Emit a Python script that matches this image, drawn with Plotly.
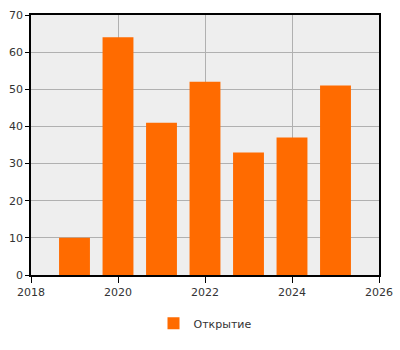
import plotly.graph_objects as go

years = [2019, 2020, 2021, 2022, 2023, 2024, 2025]
values = [10, 64, 41, 52, 33, 37, 51]
series_name = "Открытие"

fig = go.Figure()
fig.add_trace(go.Bar(x=years, y=values, name=series_name, marker_color="#ff6b00",
                     marker_line_width=0, width=0.71, showlegend=True))

axis_common = dict(showline=True, linecolor="black", linewidth=1.5, mirror=True,
                   ticks="outside", tickcolor="black", gridcolor="#b0b0b0", gridwidth=1,
                   zeroline=False, automargin=False,
                   tickfont=dict(family="DejaVu Sans", size=11, color="#333333"))

fig.update_layout(
    width=400, height=350,
    margin=dict(l=31, r=21, t=15, b=75),
    plot_bgcolor="#eeeeee", paper_bgcolor="white",
    xaxis=dict(range=[2018, 2026], dtick=2, tick0=2018, ticklen=6, **axis_common),
    yaxis=dict(range=[0, 70], dtick=10, ticklen=4, **axis_common),
    showlegend=True,
    legend=dict(orientation="h", x=0.5, xanchor="center", y=-0.13, yanchor="top",
                font=dict(family="DejaVu Sans", size=11, color="#333333")),
)
fig.write_html("out.html")
